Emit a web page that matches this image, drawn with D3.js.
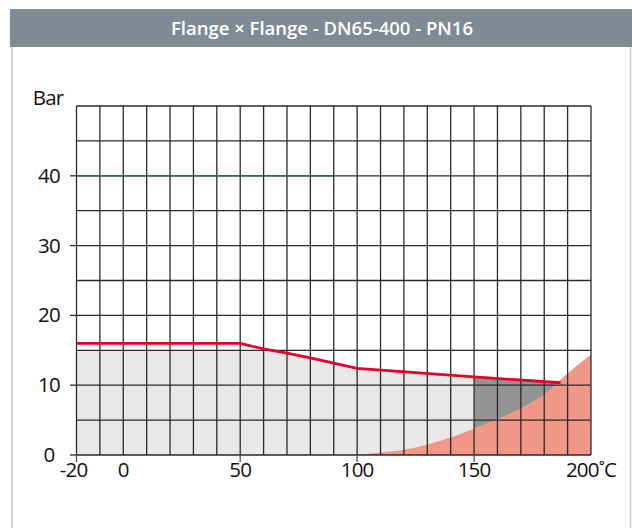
<!DOCTYPE html>
<html>
<head>
<meta charset="utf-8">
<script src="https://cdn.jsdelivr.net/npm/d3@7"></script>
<style>
  html, body { margin: 0; padding: 0; background: #fff; }
  svg { display: block; }
</style>
</head>
<body>
<div id="chart"></div>
<script>
// ---- data ----
const title = "Flange \u00d7 Flange - DN65-400 - PN16";
const tempTicks = [-20, 0, 50, 100, 150, 200];
const tempLabels = ["-20", "0", "50", "100", "150", "200\u02daC"];
const tempTickMarks = [-20, 50, 100, 150];
const pressTicks = [0, 10, 20, 30, 40];
const pressLabel = "Bar";

// red limit line
const redTemp = [-20, 50, 60, 70, 80, 90, 100, 150, 187];
const redPress = [16, 16, 15.2, 14.6, 13.9, 13.15, 12.4, 11.2, 10.35];

// green line
const greenTemp = [-20, 90];
const greenPress = [40, 40];

// light gray area (top boundary)
const lightTemp = [-20, 61, 70, 80, 90, 100, 150];
const lightPress = [15, 15, 14.6, 13.9, 13.15, 12.4, 11.2];

// dark gray area (top boundary)
const darkTemp = [150, 160, 170, 180, 187];
const darkPress = [11.2, 10.97, 10.74, 10.51, 10.35];

// salmon area (top boundary)
const salmonTemp = [100, 110, 120, 130, 140, 150, 160, 170, 180, 190, 200];
const salmonPress = [0, 0.35, 0.75, 1.5, 2.5, 3.8, 5.15, 6.7, 8.7, 11.7, 14.4];

// ---- drawing ----
const W = 632, H = 528;
const svg = d3.select("#chart").append("svg").attr("width", W).attr("height", H);

// frame
svg.append("rect").attr("x", 10).attr("y", 9).attr("width", 622).attr("height", 38).attr("fill", "#7f8a94");
svg.append("line").attr("x1", 12).attr("x2", 12).attr("y1", 47).attr("y2", H).attr("stroke", "#c8c8c8").attr("stroke-width", 1.5);
svg.append("line").attr("x1", 630.5).attr("x2", 630.5).attr("y1", 47).attr("y2", H).attr("stroke", "#c8c8c8").attr("stroke-width", 1.5);
svg.append("text").attr("x", 322).attr("y", 35).attr("text-anchor", "middle")
  .attr("fill", "#fff").attr("font-family", "'Open Sans', 'Noto Sans', sans-serif")
  .attr("font-size", 18.5).attr("font-weight", 600).text(title);

const x = d3.scaleLinear().domain([-20, 200]).range([76.5, 591]);
const y = d3.scaleLinear().domain([0, 50]).range([455, 106]);

const zip = (a, b) => a.map((v, i) => [v, b[i]]);
const area = d3.area().x(d => x(d[0])).y0(y(0)).y1(d => y(d[1]));

svg.append("path").datum(zip(lightTemp, lightPress)).attr("d", area).attr("fill", "#e8e8e8");
svg.append("path").datum(zip(darkTemp, darkPress)).attr("d", area).attr("fill", "#949494");
svg.append("path").datum(zip(salmonTemp, salmonPress))
  .attr("d", area.curve(d3.curveMonotoneX)).attr("fill", "#f09888");

// grid
const g = svg.append("g");
g.selectAll("line.v").data(d3.range(-20, 201, 10)).join("line")
  .attr("x1", d => x(d)).attr("x2", d => x(d)).attr("y1", y(50)).attr("y2", y(0))
  .attr("stroke", "#2a2a2a").attr("stroke-width", 1.3);
g.selectAll("line.h").data(d3.range(0, 51, 5)).join("line")
  .attr("x1", x(-20)).attr("x2", x(200)).attr("y1", d => y(d)).attr("y2", d => y(d))
  .attr("stroke", "#2a2a2a").attr("stroke-width", 1.3);

// tick marks
g.selectAll("line.yt").data(pressTicks).join("line")
  .attr("x1", 70).attr("x2", x(-20)).attr("y1", d => y(d)).attr("y2", d => y(d))
  .attr("stroke", "#2a2a2a").attr("stroke-width", 1.3);
g.selectAll("line.xt").data(tempTickMarks).join("line")
  .attr("x1", d => x(d)).attr("x2", d => x(d)).attr("y1", y(0)).attr("y2", 462)
  .attr("stroke", "#555").attr("stroke-width", 1.3);

// green line
svg.append("path").datum(zip(greenTemp, greenPress))
  .attr("d", d3.line().x(d => x(d[0])).y(d => y(d[1])))
  .attr("fill", "none").attr("stroke", "#2f6a4c").attr("stroke-width", 1.5);

// red line
svg.append("path").datum(zip(redTemp, redPress))
  .attr("d", d3.line().x(d => x(d[0])).y(d => y(d[1])))
  .attr("fill", "none").attr("stroke", "#e2002b").attr("stroke-width", 2.8);

// labels
const font = "'Open Sans', 'Noto Sans', sans-serif";
svg.selectAll("text.yl").data(pressTicks).join("text")
  .attr("x", 49).attr("y", d => y(d) + 7).attr("text-anchor", "middle")
  .attr("font-family", font).attr("font-size", 20.5).attr("letter-spacing", -0.8)
  .attr("fill", "#111").text(d => d);
svg.append("text").attr("x", 48).attr("y", 105).attr("text-anchor", "middle")
  .attr("font-family", font).attr("font-size", 20.5).attr("letter-spacing", -0.8)
  .attr("fill", "#111").text(pressLabel);
svg.selectAll("text.xl").data(tempTicks).join("text")
  .attr("x", (d, i) => x(d) + (i === 0 ? -3 : 0)).attr("y", 477).attr("text-anchor", "middle")
  .attr("font-family", font).attr("font-size", 20.5).attr("letter-spacing", -0.8)
  .attr("fill", "#111").text((d, i) => tempLabels[i]);
</script>
</body>
</html>
